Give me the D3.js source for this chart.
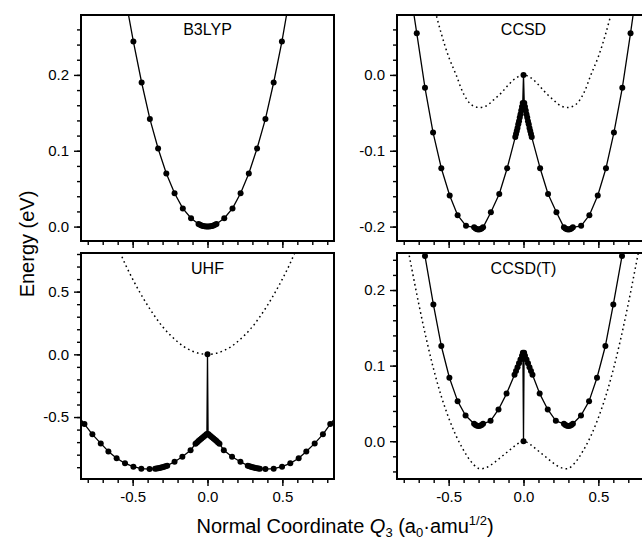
<!DOCTYPE html>
<html lang="en">
<head>
<meta charset="UTF-8">
<title>Energy along Q3</title>
<style>
  body { margin: 0; background: #fff; }
  svg { display: block; font-family: "Liberation Sans", Arial, Helvetica, sans-serif; }
</style>
</head>
<body>
<div id="chart"></div>
<script src="https://cdn.jsdelivr.net/npm/d3@7/dist/d3.min.js"></script>
<script>
// ---- data ----
// x axis, shared by all four panels
const qTicks = [-0.5, 0.0, 0.5]

// B3LYP: computed points (solid line + dots)
const b3lypQ = [-0.495, -0.440, -0.385, -0.330, -0.275, -0.220, -0.165, -0.110,
  -0.060, -0.050, -0.040, -0.030, -0.020, -0.010, 0.000, 0.010, 0.020, 0.030, 0.040, 0.050, 0.060,
  0.112, 0.167, 0.221, 0.276, 0.331, 0.387, 0.442, 0.497]
const b3lypE = [0.244, 0.190, 0.142, 0.103, 0.070, 0.044, 0.024, 0.011,
  0.0035, 0.0025, 0.0016, 0.0009, 0.0004, 0.0001, 0.000, 0.0001, 0.0004, 0.0009, 0.0016, 0.0025, 0.0035,
  0.011, 0.024, 0.044, 0.070, 0.103, 0.142, 0.190, 0.244]
const b3lypEndQ = [-0.535, 0.535]   // where the line leaves the frame
const b3lypEndE = [0.287, 0.287]
const b3lypTicks = [0.0, 0.1, 0.2]

// CCSD
const ccsdQ = [-0.713, -0.658, -0.604, -0.549, -0.493, -0.440, -0.384,
  -0.330, -0.320, -0.310, -0.300, -0.290, -0.280, -0.270,
  -0.218, -0.162, -0.109,
  -0.055, -0.050, -0.045, -0.040, -0.035, -0.030, -0.025, -0.020, -0.015, -0.010, -0.005,
  0.000,
  0.005, 0.010, 0.015, 0.020, 0.025, 0.030, 0.035, 0.040, 0.045, 0.050, 0.055,
  0.111, 0.164, 0.220,
  0.270, 0.280, 0.290, 0.300, 0.310, 0.320, 0.330,
  0.385, 0.440, 0.496, 0.551, 0.604, 0.660, 0.715]
const ccsdE = [0.055, -0.017, -0.076, -0.123, -0.159, -0.185, -0.199,
  -0.201, -0.2025, -0.2035, -0.204, -0.2035, -0.2025, -0.201,
  -0.181, -0.157, -0.123,
  -0.082, -0.078, -0.074, -0.070, -0.065, -0.061, -0.056, -0.052, -0.047, -0.042, -0.037,
  0.000,
  -0.037, -0.042, -0.047, -0.052, -0.056, -0.061, -0.065, -0.070, -0.074, -0.078, -0.082,
  -0.123, -0.157, -0.181,
  -0.201, -0.2025, -0.2035, -0.204, -0.2035, -0.2025, -0.201,
  -0.199, -0.185, -0.159, -0.123, -0.076, -0.017, 0.055]
const ccsdEndQ = [-0.740, 0.740]
const ccsdEndE = [0.090, 0.090]
const ccsdRefQ = [-0.62, -0.60, -0.55, -0.50, -0.45, -0.40, -0.35, -0.30, -0.25, -0.20, -0.15, -0.10, -0.05, 0,
  0.05, 0.10, 0.15, 0.20, 0.25, 0.30, 0.35, 0.40, 0.45, 0.50, 0.55, 0.60, 0.62]
const ccsdRefE = [0.108, 0.092, 0.055, 0.024, 0.000, -0.025, -0.039, -0.043, -0.041, -0.033, -0.024, -0.013, -0.004, 0,
  -0.004, -0.013, -0.024, -0.033, -0.041, -0.043, -0.039, -0.025, 0.000, 0.024, 0.055, 0.092, 0.108]
const ccsdTicks = [-0.2, -0.1, 0.0]

// UHF
const uhfQ = [-0.822, -0.769, -0.713, -0.662, -0.607, -0.551, -0.495, -0.442, -0.387,
  -0.350, -0.340, -0.330, -0.320, -0.310, -0.300, -0.290, -0.280, -0.269,
  -0.220, -0.168, -0.113,
  -0.080, -0.070, -0.060, -0.050, -0.040, -0.030, -0.020, -0.010, -0.004,
  0.000,
  0.004, 0.010, 0.020, 0.030, 0.040, 0.050, 0.060, 0.070, 0.080,
  0.109, 0.164, 0.220,
  0.269, 0.280, 0.290, 0.300, 0.310, 0.320, 0.330, 0.340, 0.350,
  0.387, 0.442, 0.498, 0.553, 0.609, 0.660, 0.716, 0.771, 0.820]
const uhfE = [-0.556, -0.638, -0.710, -0.774, -0.829, -0.869, -0.896, -0.912, -0.915,
  -0.912, -0.910, -0.908, -0.906, -0.903, -0.900, -0.897, -0.893, -0.888,
  -0.856, -0.817, -0.765,
  -0.712, -0.702, -0.692, -0.682, -0.672, -0.662, -0.652, -0.642, -0.636,
  0.000,
  -0.636, -0.642, -0.652, -0.662, -0.672, -0.682, -0.692, -0.702, -0.712,
  -0.765, -0.817, -0.856,
  -0.888, -0.893, -0.897, -0.900, -0.903, -0.906, -0.908, -0.910, -0.912,
  -0.915, -0.912, -0.896, -0.869, -0.829, -0.774, -0.710, -0.638, -0.556]
const uhfEndQ = [-0.860, 0.860]
const uhfEndE = [-0.497, -0.497]
const uhfRefQ = [-0.62, -0.60, -0.55, -0.50, -0.45, -0.40, -0.35, -0.30, -0.25, -0.20, -0.15, -0.10, -0.05, 0,
  0.05, 0.10, 0.15, 0.20, 0.25, 0.30, 0.35, 0.40, 0.45, 0.50, 0.55, 0.60, 0.62]
const uhfRefE = [0.92, 0.86, 0.72, 0.60, 0.49, 0.39, 0.30, 0.22, 0.155, 0.10, 0.055, 0.025, 0.006, 0,
  0.006, 0.025, 0.055, 0.10, 0.155, 0.22, 0.30, 0.39, 0.49, 0.60, 0.72, 0.86, 0.92]
const uhfTicks = [-0.5, 0.0, 0.5]

// CCSD(T)
const ccsdtQ = [-0.658, -0.602, -0.549, -0.495, -0.440, -0.387,
  -0.330, -0.320, -0.310, -0.300, -0.290, -0.280, -0.270,
  -0.220, -0.167, -0.113,
  -0.060, -0.050, -0.040, -0.030, -0.020, -0.010, -0.004,
  0.000,
  0.004, 0.010, 0.020, 0.030, 0.040, 0.050, 0.060,
  0.108, 0.162, 0.216,
  0.270, 0.280, 0.290, 0.300, 0.310, 0.320, 0.330,
  0.384, 0.438, 0.491, 0.547, 0.600, 0.658]
const ccsdtE = [0.245, 0.181, 0.126, 0.084, 0.053, 0.034,
  0.023, 0.0215, 0.0205, 0.020, 0.0205, 0.0215, 0.023,
  0.027, 0.042, 0.063,
  0.088, 0.093, 0.098, 0.103, 0.108, 0.113, 0.117,
  0.000,
  0.117, 0.113, 0.108, 0.103, 0.098, 0.093, 0.088,
  0.063, 0.042, 0.027,
  0.023, 0.0215, 0.0205, 0.020, 0.0205, 0.0215, 0.023,
  0.034, 0.053, 0.084, 0.126, 0.181, 0.245]
const ccsdtEndQ = [-0.690, 0.690]
const ccsdtEndE = [0.283, 0.283]
const ccsdtRefQ = [-0.80, -0.75, -0.70, -0.65, -0.60, -0.55, -0.50, -0.45, -0.40, -0.35, -0.30, -0.25, -0.20, -0.15, -0.10, -0.05, 0,
  0.05, 0.10, 0.15, 0.20, 0.25, 0.30, 0.35, 0.40, 0.45, 0.50, 0.55, 0.60, 0.65, 0.70, 0.75, 0.80]
const ccsdtRefE = [0.283, 0.232, 0.182, 0.136, 0.095, 0.060, 0.031, 0.007, -0.012, -0.027, -0.036, -0.035, -0.029, -0.021, -0.013, -0.005, 0,
  -0.005, -0.013, -0.021, -0.029, -0.035, -0.036, -0.027, -0.012, 0.007, 0.031, 0.060, 0.095, 0.136, 0.182, 0.232, 0.283]
const ccsdtTicks = [0.0, 0.1, 0.2]

// ---- layout ----
const width = 642
const height = 544
const pw = 253
const ph = 226
const xDomain = [-0.845, 0.845]

const zip = (qs, es) => qs.map((q, i) => [q, es[i]])

const panels = [
  { id: 'b3lyp', name: 'B3LYP', left: 81, top: 15, yDomain: [-0.019, 0.279], major: b3lypTicks, minor: 0.02,
    pts: zip(b3lypQ, b3lypE), ends: zip(b3lypEndQ, b3lypEndE), ref: null, xLabels: false },
  { id: 'ccsd', name: 'CCSD', left: 397, top: 15, yDomain: [-0.219, 0.079], major: ccsdTicks, minor: 0.02,
    pts: zip(ccsdQ, ccsdE), ends: zip(ccsdEndQ, ccsdEndE), ref: zip(ccsdRefQ, ccsdRefE), xLabels: false },
  { id: 'uhf', name: 'UHF', left: 81, top: 253, yDomain: [-0.994, 0.808], major: uhfTicks, minor: 0.1,
    pts: zip(uhfQ, uhfE), ends: zip(uhfEndQ, uhfEndE), ref: zip(uhfRefQ, uhfRefE), xLabels: true },
  { id: 'ccsdt', name: 'CCSD(T)', left: 397, top: 253, yDomain: [-0.05, 0.249], major: ccsdtTicks, minor: 0.02,
    pts: zip(ccsdtQ, ccsdtE), ends: zip(ccsdtEndQ, ccsdtEndE), ref: zip(ccsdtRefQ, ccsdtRefE), xLabels: true }
]

const svg = d3.select('#chart')
  .append('svg')
  .attr('width', width)
  .attr('height', height)

const fmt = d => d.toFixed(1)

// minor tick positions between the domain ends
function minorTicks(domain, step) {
  const lo = Math.ceil(domain[0] / step - 1e-9)
  const hi = Math.floor(domain[1] / step + 1e-9)
  return d3.range(lo, hi + 1).map(i => +(i * step).toFixed(4))
}

function styleAxis(g) {
  g.attr('font-family', null).attr('font-size', null)
  g.select('.domain').remove()
  g.selectAll('.tick line').attr('stroke', '#000').attr('stroke-width', 1.4)
  g.selectAll('.tick text').attr('fill', '#000').style('font-size', '15px')
}

panels.forEach(p => {
  const x = d3.scaleLinear().domain(xDomain).range([0, pw])
  const y = d3.scaleLinear().domain(p.yDomain).range([ph, 0])

  const g = svg.append('g')
    .attr('class', 'panel ' + p.id)
    .attr('transform', `translate(${p.left},${p.top})`)

  g.append('clipPath')
    .attr('id', 'clip-' + p.id)
    .append('rect')
    .attr('width', pw)
    .attr('height', ph)

  const plot = g.append('g').attr('clip-path', `url(#clip-${p.id})`)

  if (p.ref) {
    plot.append('path')
      .datum(p.ref)
      .attr('d', d3.line().x(d => x(d[0])).y(d => y(d[1])).curve(d3.curveCatmullRom))
      .attr('fill', 'none')
      .attr('stroke', '#000')
      .attr('stroke-width', 1.5)
      .attr('stroke-dasharray', '1.6 3.2')
  }

  const linePts = [p.ends[0], ...p.pts, p.ends[1]]
  plot.append('path')
    .datum(linePts)
    .attr('d', d3.line().x(d => x(d[0])).y(d => y(d[1])))
    .attr('fill', 'none')
    .attr('stroke', '#000')
    .attr('stroke-width', 1.3)
    .attr('stroke-linejoin', 'round')

  plot.selectAll('circle')
    .data(p.pts)
    .enter()
    .append('circle')
    .attr('cx', d => x(d[0]))
    .attr('cy', d => y(d[1]))
    .attr('r', 3)
    .attr('fill', '#000')

  // y axis: minor then major
  g.append('g')
    .call(d3.axisLeft(y).tickValues(minorTicks(p.yDomain, p.minor)).tickSize(4).tickFormat(''))
    .call(styleAxis)
  g.append('g')
    .call(d3.axisLeft(y).tickValues(p.major).tickSize(7).tickPadding(5).tickFormat(fmt))
    .call(styleAxis)

  // x axis at the bottom of every panel, labels only on the lower row
  g.append('g')
    .attr('transform', `translate(0,${ph})`)
    .call(d3.axisBottom(x).tickValues(minorTicks(xDomain, 0.1)).tickSize(4).tickFormat(''))
    .call(styleAxis)
  g.append('g')
    .attr('transform', `translate(0,${ph})`)
    .call(d3.axisBottom(x).tickValues(qTicks).tickSize(7).tickPadding(5).tickFormat(p.xLabels ? fmt : ''))
    .call(styleAxis)

  g.append('rect')
    .attr('width', pw)
    .attr('height', ph)
    .attr('fill', 'none')
    .attr('stroke', '#000')
    .attr('stroke-width', 2)

  g.append('text')
    .attr('x', x(0))
    .attr('y', p.id === 'uhf' || p.id === 'ccsdt' ? 20.5 : 20)
    .attr('text-anchor', 'middle')
    .style('font-size', '16px')
    .text(p.name)
})

// axis titles
svg.append('text')
  .attr('transform', 'translate(34,244) rotate(-90)')
  .attr('text-anchor', 'middle')
  .style('font-size', '20px')
  .text('Energy (eV)')

const xt = svg.append('text')
  .attr('x', 345)
  .attr('y', 533)
  .attr('text-anchor', 'middle')
  .style('font-size', '20px')
xt.append('tspan').text('Normal Coordinate ')
xt.append('tspan').style('font-style', 'italic').text('Q')
xt.append('tspan').attr('dy', 4).style('font-size', '13px').text('3')
xt.append('tspan').attr('dy', -4).text(' (a')
xt.append('tspan').attr('dy', 4).style('font-size', '13px').text('0')
xt.append('tspan').attr('dy', -4).text('\u00b7amu')
xt.append('tspan').attr('dy', -8).style('font-size', '13px').text('1/2')
xt.append('tspan').attr('dy', 8).text(')')
</script>
</body>
</html>
